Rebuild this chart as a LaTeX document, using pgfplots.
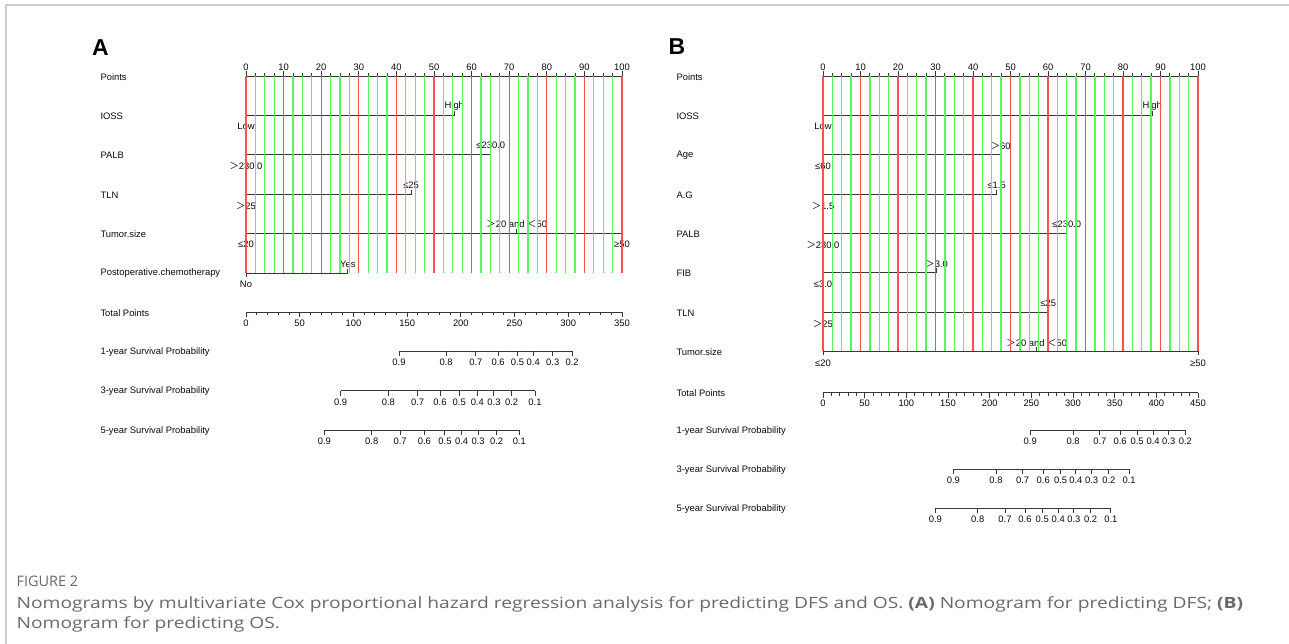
\documentclass[border=0pt]{standalone}
\usepackage{pgfplots}
\pgfplotsset{compat=1.18}
\usepackage{pgfplotstable}
\usepackage{fontspec}
\setmainfont{Liberation Sans}
\newfontfamily\cjk{Noto Sans CJK SC}
\newfontfamily\capfont[FakeStretch=1.24]{Open Sans}
\newfontfamily\figfont{Open Sans}
\newcommand{\GT}{{\cjk ＞}}
\newcommand{\LT}{{\cjk ＜}}
\definecolor{gridred}{RGB}{255,80,80}
\definecolor{gridgreen}{RGB}{90,245,90}
\definecolor{lncol}{RGB}{55,55,55}
\definecolor{txt}{RGB}{10,10,10}
\definecolor{capgray}{RGB}{105,105,105}
\definecolor{framegray}{RGB}{205,205,205}
\pgfplotsset{nomo/.style={scale only axis, height=644pt, ymin=0, ymax=644,
  y dir=reverse, hide axis, clip=false, anchor=south west}}
\tikzset{fl/.style={draw=lncol, line width=0.95pt}}

% grid / tick positions on the 0-100 Points scale
\pgfplotstableread{
x k
0 0
10 0
20 0
30 0
40 0
50 0
60 0
70 0
80 0
90 0
100 0
}\majorx
\pgfplotstableread{
x k
2.5 0
5 0
7.5 0
12.5 0
15 0
17.5 0
22.5 0
25 0
27.5 0
32.5 0
35 0
37.5 0
42.5 0
45 0
47.5 0
52.5 0
55 0
57.5 0
62.5 0
65 0
67.5 0
72.5 0
75 0
77.5 0
82.5 0
85 0
87.5 0
92.5 0
95 0
97.5 0
}\minorx

\begin{document}
\begin{tikzpicture}[font=\fontsize{9.4}{11}\selectfont, every node/.style={text=txt}]
\useasboundingbox (0,0) rectangle (1289pt,644pt);
\fill[white] (0,0) rectangle (1289pt,644pt);
\begin{scope}[x=1pt,y=-1pt,yshift=644pt]
\draw[framegray, line width=1.5pt] (6,644) -- (6,5) -- (1289,5);
\node[font=\bfseries\fontsize{23}{23}\selectfont, text=black] at (100.5,47.5) {A};
\node[font=\bfseries\fontsize{23}{23}\selectfont, text=black] at (677,47) {B};
\begin{scope}[every node/.append style={anchor=west}]
\node at (97,77) {Points};
\node at (97,116) {IOSS};
\node at (97,155.5) {PALB};
\node at (97,195) {TLN};
\node at (97,234) {Tumor.size};
\node at (97,273.5) {Postoperative.chemotherapy};
\node at (97,313) {Total Points};
\node at (97,352) {1-year Survival Probability};
\node at (97,391.5) {3-year Survival Probability};
\node at (97,431) {5-year Survival Probability};
\node at (673,77) {Points};
\node at (673,116) {IOSS};
\node at (673,155.5) {Age};
\node at (673,195) {A.G};
\node at (673,234) {PALB};
\node at (673,273.5) {FIB};
\node at (673,313) {TLN};
\node at (673,352.5) {Tumor.size};
\node at (673,393) {Total Points};
\node at (673,431) {1-year Survival Probability};
\node at (673,470) {3-year Survival Probability};
\node at (673,509) {5-year Survival Probability};
\node[font=\figfont\fontsize{14.5}{17}\selectfont, text=capgray] at (13,581) {FIGURE 2};
\node[font=\capfont\fontsize{15.5}{19}\selectfont, text=capgray] at (13,604) {Nomograms by multivariate Cox proportional hazard regression analysis for predicting DFS and OS. \textbf{(A)} Nomogram for predicting DFS; \textbf{(B)}};
\node[font=\capfont\fontsize{15.5}{19}\selectfont, text=capgray] at (13,624) {Nomogram for predicting OS.};
\end{scope}
\end{scope}

% ================= Panel A : Points scale =================
\begin{axis}[nomo, at={(246pt,0pt)}, width=376pt, xmin=0, xmax=100]
\addplot[gridgreen, only marks, mark=|, mark size=98.5pt, line width=1.3pt] table[x=x, y expr=174.5] {\minorx};
\addplot[gridred, only marks, mark=|, mark size=98.5pt, line width=1.3pt] table[x=x, y expr=174.5] {\majorx};
\addplot[fl] coordinates {(0,76)(100,76)};
\addplot[fl, only marks, mark=|, mark size=2.5pt] table[x=x, y expr=73.5] {\majorx};
\addplot[fl, only marks, mark=|, mark size=1.5pt] table[x=x, y expr=74.5] {\minorx};
\pgfplotsinvokeforeach{0,10,20,30,40,50,60,70,80,90,100}{\node at (axis cs:#1,67) {#1};}
% IOSS
\addplot[fl] coordinates {(0,119)(0,115)(55.4,115)(55.4,111)};
\node at (axis cs:0,126.5) {Low};
\node at (axis cs:55.4,106) {High};
% PALB
\addplot[fl] coordinates {(0,158.5)(0,154.5)(65.1,154.5)(65.1,150.5)};
\node at (axis cs:0,166) {\GT230.0};
\node at (axis cs:65.1,145.5) {≤230.0};
% TLN
\addplot[fl] coordinates {(0,198)(0,194)(43.9,194)(43.9,190)};
\node at (axis cs:0,205.5) {\GT25};
\node at (axis cs:43.9,185) {≤25};
% Tumor.size
\addplot[fl] coordinates {(0,237)(0,233)(100,233)(100,237)};
\addplot[fl] coordinates {(72,233)(72,229)};
\node at (axis cs:0,244.5) {≤20};
\node at (axis cs:100,244.5) {≥50};
\node at (axis cs:72,224) {\GT20 and \LT50};
% Postoperative chemotherapy
\addplot[fl] coordinates {(0,277)(0,273)(27.1,273)(27.1,269)};
\node at (axis cs:0,284.5) {No};
\node at (axis cs:27.1,264) {Yes};
\end{axis}

% ================= Panel A : Total points scale =================
\begin{axis}[nomo, at={(246pt,0pt)}, width=376pt, xmin=0, xmax=350]
\addplot[fl] coordinates {(0,312)(350,312)};
\addplot[fl, only marks, mark=|, mark size=2.5pt] coordinates {(0,314.5)(50,314.5)(100,314.5)(150,314.5)(200,314.5)(250,314.5)(300,314.5)(350,314.5)};
\addplot[fl, only marks, mark=|, mark size=1.5pt] coordinates {(10,313.5)(20,313.5)(30,313.5)(40,313.5)(60,313.5)(70,313.5)(80,313.5)(90,313.5)(110,313.5)(120,313.5)(130,313.5)(140,313.5)(160,313.5)(170,313.5)(180,313.5)(190,313.5)(210,313.5)(220,313.5)(230,313.5)(240,313.5)(260,313.5)(270,313.5)(280,313.5)(290,313.5)(310,313.5)(320,313.5)(330,313.5)(340,313.5)};
\pgfplotsinvokeforeach{0,50,100,150,200,250,300,350}{\node at (axis cs:#1,323) {#1};}
% 1-year
\addplot[fl] coordinates {(142.4,351)(303.5,351)};
\addplot[fl, only marks, mark=|, mark size=2.5pt] coordinates {(142.4,353.5)(186.2,353.5)(214,353.5)(234.7,353.5)(252.7,353.5)(267.4,353.5)(285.5,353.5)(303.5,353.5)};
\node at (axis cs:142.4,362.5) {0.9};
\node at (axis cs:186.2,362.5) {0.8};
\node at (axis cs:214,362.5) {0.7};
\node at (axis cs:234.7,362.5) {0.6};
\node at (axis cs:252.7,362.5) {0.5};
\node at (axis cs:267.4,362.5) {0.4};
\node at (axis cs:285.5,362.5) {0.3};
\node at (axis cs:303.5,362.5) {0.2};
% 3-year
\addplot[fl] coordinates {(88.1,390.5)(269,390.5)};
\addplot[fl, only marks, mark=|, mark size=2.5pt] coordinates {(88.1,393)(132.5,393)(159.8,393)(180.6,393)(198.5,393)(215.3,393)(230.8,393)(247.3,393)(269,393)};
\node at (axis cs:88.1,402) {0.9};
\node at (axis cs:132.5,402) {0.8};
\node at (axis cs:159.8,402) {0.7};
\node at (axis cs:180.6,402) {0.6};
\node at (axis cs:198.5,402) {0.5};
\node at (axis cs:215.3,402) {0.4};
\node at (axis cs:230.8,402) {0.3};
\node at (axis cs:247.3,402) {0.2};
\node at (axis cs:269,402) {0.1};
% 5-year
\addplot[fl] coordinates {(72.9,430)(254.4,430)};
\addplot[fl, only marks, mark=|, mark size=2.5pt] coordinates {(72.9,432.5)(117,432.5)(143.4,432.5)(166,432.5)(185.2,432.5)(200.7,432.5)(216,432.5)(233.3,432.5)(254.4,432.5)};
\node at (axis cs:72.9,441.5) {0.9};
\node at (axis cs:117,441.5) {0.8};
\node at (axis cs:143.4,441.5) {0.7};
\node at (axis cs:166,441.5) {0.6};
\node at (axis cs:185.2,441.5) {0.5};
\node at (axis cs:200.7,441.5) {0.4};
\node at (axis cs:216,441.5) {0.3};
\node at (axis cs:233.3,441.5) {0.2};
\node at (axis cs:254.4,441.5) {0.1};
\end{axis}

% ================= Panel B : Points scale =================
\begin{axis}[nomo, at={(823pt,0pt)}, width=375pt, xmin=0, xmax=100]
\addplot[gridgreen, only marks, mark=|, mark size=137.75pt, line width=1.3pt] table[x=x, y expr=213.75] {\minorx};
\addplot[gridred, only marks, mark=|, mark size=137.75pt, line width=1.3pt] table[x=x, y expr=213.75] {\majorx};
\addplot[fl] coordinates {(0,76)(100,76)};
\addplot[fl, only marks, mark=|, mark size=2.5pt] table[x=x, y expr=73.5] {\majorx};
\addplot[fl, only marks, mark=|, mark size=1.5pt] table[x=x, y expr=74.5] {\minorx};
\pgfplotsinvokeforeach{0,10,20,30,40,50,60,70,80,90,100}{\node at (axis cs:#1,67) {#1};}
% IOSS
\addplot[fl] coordinates {(0,119)(0,115)(87.8,115)(87.8,111)};
\node at (axis cs:0,126.5) {Low};
\node at (axis cs:87.8,106) {High};
% Age
\addplot[fl] coordinates {(0,158.5)(0,154.5)(47.4,154.5)(47.4,150.5)};
\node at (axis cs:0,166) {≤60};
\node at (axis cs:47.4,145.5) {\GT60};
% A.G
\addplot[fl] coordinates {(0,198)(0,194)(46.3,194)(46.3,190)};
\node at (axis cs:0,205.5) {\GT1.5};
\node at (axis cs:46.3,185) {≤1.5};
% PALB
\addplot[fl] coordinates {(0,237)(0,233)(65,233)(65,229)};
\node at (axis cs:0,244.5) {\GT230.0};
\node at (axis cs:65,224) {≤230.0};
% FIB
\addplot[fl] coordinates {(0,276.5)(0,272.5)(30.3,272.5)(30.3,268.5)};
\node at (axis cs:0,284) {≤3.0};
\node at (axis cs:30.3,263.5) {\GT3.0};
% TLN
\addplot[fl] coordinates {(0,316)(0,312)(60.1,312)(60.1,308)};
\node at (axis cs:0,323.5) {\GT25};
\node at (axis cs:60.1,303) {≤25};
% Tumor.size
\addplot[fl] coordinates {(0,355.5)(0,351.5)(100,351.5)(100,355.5)};
\addplot[fl] coordinates {(57,351.5)(57,347.5)};
\node at (axis cs:0,363) {≤20};
\node at (axis cs:100,363) {≥50};
\node at (axis cs:57,342.5) {\GT20 and \LT50};
\end{axis}

% ================= Panel B : Total points scale =================
\begin{axis}[nomo, at={(823pt,0pt)}, width=375pt, xmin=0, xmax=450]
\addplot[fl] coordinates {(0,392.5)(450,392.5)};
\addplot[fl, only marks, mark=|, mark size=2.5pt] coordinates {(0,395)(50,395)(100,395)(150,395)(200,395)(250,395)(300,395)(350,395)(400,395)(450,395)};
\addplot[fl, only marks, mark=|, mark size=1.5pt] coordinates {(10,394)(20,394)(30,394)(40,394)(60,394)(70,394)(80,394)(90,394)(110,394)(120,394)(130,394)(140,394)(160,394)(170,394)(180,394)(190,394)(210,394)(220,394)(230,394)(240,394)(260,394)(270,394)(280,394)(290,394)(310,394)(320,394)(330,394)(340,394)(360,394)(370,394)(380,394)(390,394)(410,394)(420,394)(430,394)(440,394)};
\pgfplotsinvokeforeach{0,50,100,150,200,250,300,350,400,450}{\node at (axis cs:#1,403) {#1};}
% 1-year
\addplot[fl] coordinates {(248.7,430.3)(434.9,430.3)};
\addplot[fl, only marks, mark=|, mark size=2.5pt] coordinates {(248.7,432.8)(300.2,432.8)(332.2,432.8)(356.6,432.8)(376.9,432.8)(396.1,432.8)(414.9,432.8)(434.9,432.8)};
\node at (axis cs:248.7,441.5) {0.9};
\node at (axis cs:300.2,441.5) {0.8};
\node at (axis cs:332.2,441.5) {0.7};
\node at (axis cs:356.6,441.5) {0.6};
\node at (axis cs:376.9,441.5) {0.5};
\node at (axis cs:396.1,441.5) {0.4};
\node at (axis cs:414.9,441.5) {0.3};
\node at (axis cs:434.9,441.5) {0.2};
% 3-year
\addplot[fl] coordinates {(156.5,469.3)(367.3,469.3)};
\addplot[fl, only marks, mark=|, mark size=2.5pt] coordinates {(156.5,471.8)(207.6,471.8)(239.6,471.8)(264.3,471.8)(285.1,471.8)(303.5,471.8)(322.3,471.8)(343,471.8)(367.3,471.8)};
\node at (axis cs:156.5,480.5) {0.9};
\node at (axis cs:207.6,480.5) {0.8};
\node at (axis cs:239.6,480.5) {0.7};
\node at (axis cs:264.3,480.5) {0.6};
\node at (axis cs:285.1,480.5) {0.5};
\node at (axis cs:303.5,480.5) {0.4};
\node at (axis cs:322.3,480.5) {0.3};
\node at (axis cs:343,480.5) {0.2};
\node at (axis cs:367.3,480.5) {0.1};
% 5-year
\addplot[fl] coordinates {(134.9,508.3)(345.4,508.3)};
\addplot[fl, only marks, mark=|, mark size=2.5pt] coordinates {(134.9,510.8)(185.7,510.8)(218.4,510.8)(242.4,510.8)(263.1,510.8)(282.3,510.8)(301.1,510.8)(321.1,510.8)(345.4,510.8)};
\node at (axis cs:134.9,519.5) {0.9};
\node at (axis cs:185.7,519.5) {0.8};
\node at (axis cs:218.4,519.5) {0.7};
\node at (axis cs:242.4,519.5) {0.6};
\node at (axis cs:263.1,519.5) {0.5};
\node at (axis cs:282.3,519.5) {0.4};
\node at (axis cs:301.1,519.5) {0.3};
\node at (axis cs:321.1,519.5) {0.2};
\node at (axis cs:345.4,519.5) {0.1};
\end{axis}
\end{tikzpicture}
\end{document}
